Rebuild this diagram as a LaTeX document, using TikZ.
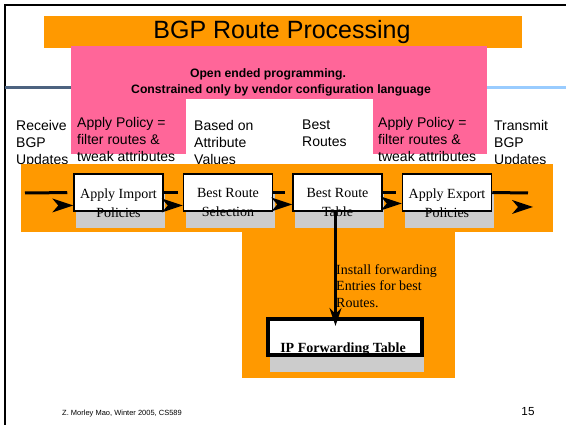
\documentclass[tikz,border=0pt]{standalone}
\usepackage{fontspec}
\setmainfont{Liberation Serif}
\setsansfont{Liberation Sans}
\usetikzlibrary{positioning,shadows,arrows.meta}
\definecolor{bgporange}{RGB}{255,153,0}
\definecolor{bgppink}{RGB}{255,102,153}
\definecolor{shadowgray}{RGB}{204,204,204}
\definecolor{ruledark}{RGB}{77,99,128}
\definecolor{ruleblue}{RGB}{153,204,255}
\tikzset{node distance=19pt, % gap between the processing boxes
        procbox/.style={ % white boxes of the pipeline
            draw, line width=1.5pt, fill=white,
            minimum width=89pt, minimum height=37pt, inner sep=0pt,
            drop shadow={shadow xshift=2pt, shadow yshift=-17pt,
                fill=shadowgray, opacity=1}},
        fwdbox/.style={ % the forwarding table box
            procbox, line width=4pt,
            minimum width=154pt, minimum height=36pt},
        boxtext/.style={
            anchor=north, inner sep=0pt, align=center,
            font=\rmfamily\fontsize{14}{19}\selectfont},
        lbl/.style={ % sans labels above the pipeline
            anchor=north west, inner sep=0pt, align=left,
            font=\sffamily\fontsize{14}{17}\selectfont},
        pinktext/.style={
            inner sep=0pt, font=\sffamily\bfseries\fontsize{12.2}{14}\selectfont},
        flowline/.style={
            line width=3pt, black},
        headmark/.pic={ % arrow head, set below its line
            \fill (0,0) -- (-21,-7) -- (-15,0) -- (-21,7) -- cycle;}
        }
\begin{document}
\begin{tikzpicture}[x=1pt,y=-1pt]
    \useasboundingbox (0,0) rectangle (566,425);
    % frame and title
    \draw[line width=2pt] (5,425) -- (5,5) -- (566,5);
    \fill[bgporange] (44,16) rectangle (522,48);
    \node[font=\sffamily\fontsize{25}{30}\selectfont] (title) at (282,32) {BGP Route Processing};
    \draw[ruledark, line width=3pt] (5,88) -- (71,88);
    \draw[ruleblue, line width=3pt] (487,88) -- (566,88);

    % policy area
    \fill[bgppink] (71,46) rectangle (487,154);
    \fill[white] (186,99) rectangle (373,155);
    \node[pinktext] (prog) at (268,74) {Open ended programming.};
    \node[pinktext] (vendor) at (281,90) {Constrained only by vendor configuration language};

    \node[lbl] (recv) at (16,120) {Receive\\BGP\\Updates};
    \node[lbl] (impol) at (77,117) {Apply Policy =\\filter routes \&\\tweak attributes};
    \node[lbl] (based) at (194,120) {Based on\\Attribute\\Values};
    \node[lbl] (best) at (302,120) {Best\\Routes};
    \node[lbl] (expol) at (378,117) {Apply Policy =\\filter routes \&\\tweak attributes};
    \node[lbl] (send) at (494,120) {Transmit\\BGP\\Updates};

    % pipeline
    \fill[bgporange] (21,164) rectangle (553,232);
    \fill[bgporange] (242,232) rectangle (455,378);

    \node[procbox] (imp) at (118.5,192.5) {};
    \node[procbox] (sel) [right=of imp] {};
    \node[procbox] (tab) [right=of sel] {};
    \node[procbox] (exp) [right=of tab] {};
    \node[boxtext] (imptxt) [below=15pt of imp.north] {Apply Import\\Policies};
    \node[boxtext] (seltxt) [below=15pt of sel.north] {Best Route\\Selection};
    \node[boxtext] (tabtxt) [below=15pt of tab.north] {Best Route\\Table};
    \node[boxtext] (exptxt) [below=15pt of exp.north] {Apply Export\\Policies};

    \coordinate (in) at (25,193);
    \coordinate (out) at (528,193);
    \draw[flowline, shorten >=6pt] (in) -- (imp.west);
    \draw[flowline, shorten >=5pt] (imp.east) -- (sel.west);
    \draw[flowline, shorten >=7pt] (sel.east) -- (tab.west);
    \draw[flowline, shorten >=6pt] (tab.east) -- (exp.west);
    \draw[flowline] (exp.east) -- (out);
    \pic at ([yshift=-13pt]imp.west) {headmark};
    \pic at ([yshift=-13pt]sel.west) {headmark};
    \pic at ([yshift=-12pt]tab.west) {headmark};
    \pic at ([yshift=-11pt]exp.west) {headmark};
    \pic at ([xshift=5pt,yshift=-14pt]out) {headmark};

    % forwarding table
    \node[fwdbox] (fwd) at (345,337) {};
    \node[font=\rmfamily\bfseries\fontsize{14}{17}\selectfont, inner sep=0pt] (fwdtxt) at (343,349) {IP Forwarding Table};
    \coordinate (drop) at ([xshift=-2pt]tab.south);
    \draw[flowline, -{Stealth[length=18pt,width=12pt,inset=6pt]}] (drop) -- ([yshift=-9pt]drop |- fwd.north);
    \node[lbl, font=\rmfamily\fontsize{14}{16.5}\selectfont] (install) at (336,264) {Install forwarding\\Entries for best\\Routes.};

    % footer
    \node[font=\sffamily\fontsize{7.5}{9}\selectfont] (credit) at (122,414) {Z. Morley Mao, Winter 2005, CS589};
    \node[font=\sffamily\fontsize{11.7}{14}\selectfont] (page) at (528,412) {15};
\end{tikzpicture}
\end{document}
